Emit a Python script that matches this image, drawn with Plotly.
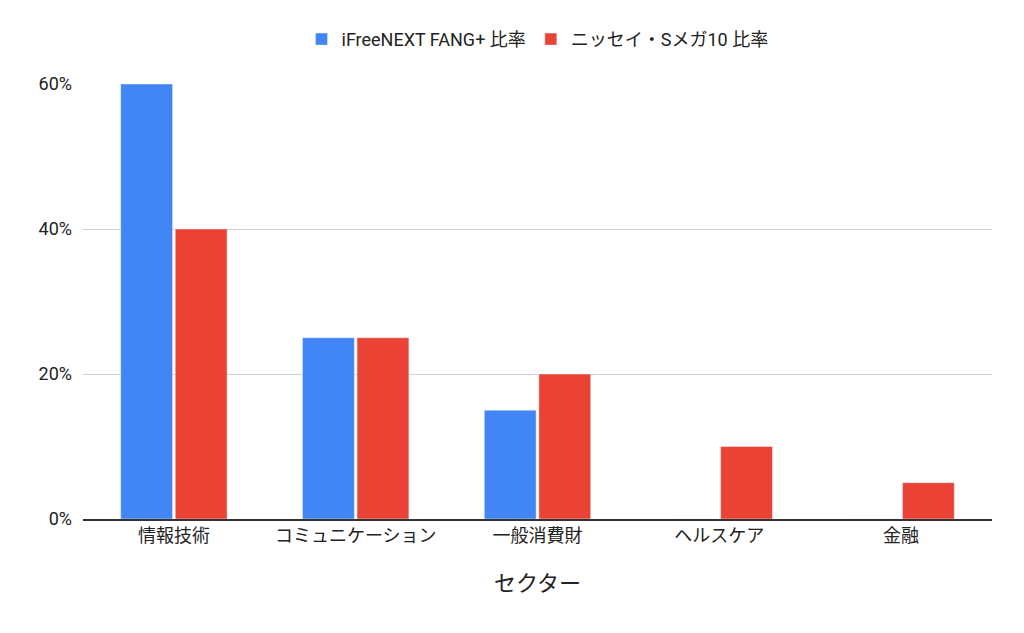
import plotly.graph_objects as go

categories = ["情報技術", "コミュニケーション", "一般消費財", "ヘルスケア", "金融"]
fang = [0.60, 0.25, 0.15, 0, 0]
smega = [0.40, 0.25, 0.20, 0.10, 0.05]
series_names = ["iFreeNEXT FANG+ 比率", "ニッセイ・Sメガ10 比率"]
tick_vals = [0, 0.2, 0.4, 0.6]
tick_text = ["0%", "20%", "40%", "60%"]

font = "Roboto, Noto Sans CJK JP, sans-serif"
fig = go.Figure()
fig.add_bar(x=categories, y=fang, name=series_names[0], marker_color="#4285F4")
fig.add_bar(x=categories, y=smega, name=series_names[1], marker_color="#EA4335")
fig.update_layout(
    width=1024, height=633,
    margin=dict(l=75, r=40, t=76, b=122, autoexpand=False),
    paper_bgcolor="white", plot_bgcolor="white",
    barmode="group", bargap=0.4, bargroupgap=0.05,
    font=dict(family=font, size=18, color="#222"),
    legend=dict(orientation="h", x=0.5, xanchor="center", y=1.06, yanchor="bottom",
                font=dict(size=18), itemwidth=30),
    xaxis=dict(title=dict(text="セクター", standoff=30), showline=True, linecolor="#333",
               linewidth=1.5, ticks=""),
    yaxis=dict(range=[0, 0.6], tickvals=tick_vals, ticktext=tick_text,
               gridcolor="#d0d0d0", zeroline=False, ticks="", ticklabelstandoff=10),
)
fig.write_html("out.html")
